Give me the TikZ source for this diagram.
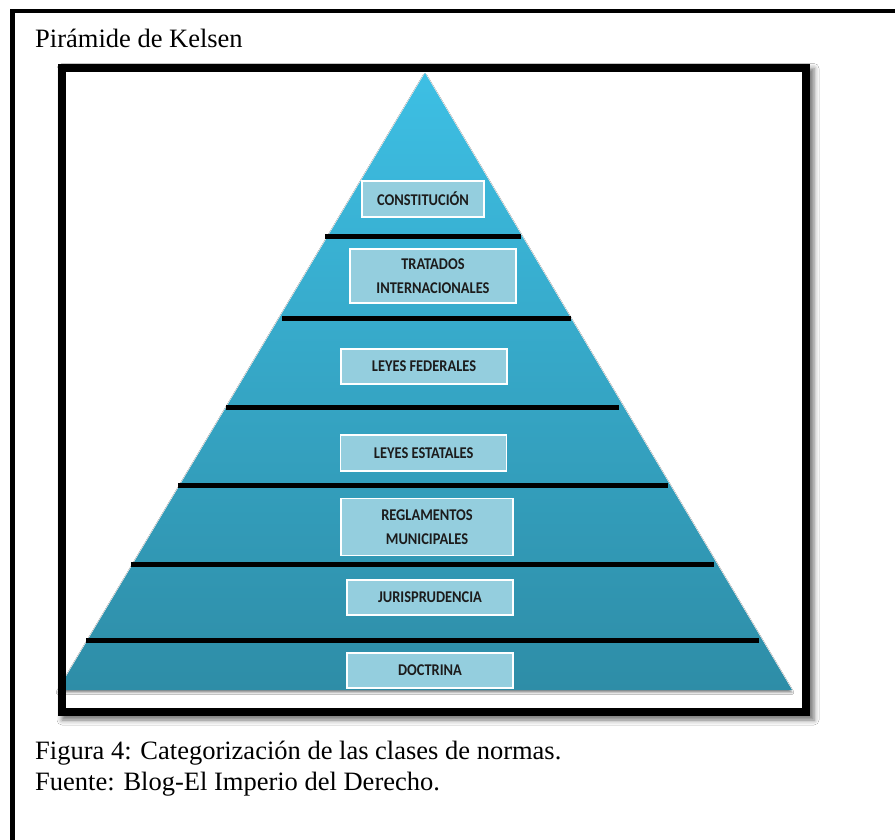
\documentclass[tikz,border=0pt]{standalone}
\usepackage{fontspec}
\setmainfont{Liberation Serif}
\newfontfamily\lblfont[FakeStretch=0.88]{Carlito}
\usetikzlibrary{shadows.blur}
\definecolor{pyrtop}{HTML}{3DBFE4}
\definecolor{pyrbot}{HTML}{2E8DA7}
\definecolor{boxfill}{HTML}{94CEDE}
\definecolor{lbltext}{HTML}{1C1C1C}
\tikzset{
  lvlbox/.style={draw=white, line width=1.4pt, fill=boxfill, text=lbltext,
    font=\lblfont\bfseries\fontsize{16.4}{24}\selectfont, align=center,
    inner sep=0pt, minimum height=35pt},
  band/.style={line width=5pt, black},
  caption/.style={anchor=base west, inner sep=0pt, font=\fontsize{26.5}{31}\selectfont}
}
\begin{document}
\begin{tikzpicture}[x=1pt,y=-1pt]
\useasboundingbox (0,0) rectangle (895,840);
\fill[white] (0,0) rectangle (895,840);
% outer frame (left and top only)
\draw[line width=4.5pt, line cap=rect] (12.5,840) -- (12.5,11) -- (895,11);
% title
\node[caption] (title) at (35,48) {Pirámide de Kelsen};
% inner frame with shadow
\path[fill=white, blur shadow={shadow xshift=4pt, shadow yshift=-4pt, shadow blur radius=5pt, shadow opacity=55}] (58,64.5) rectangle (810,716);
% pyramid
\path[top color=pyrtop, bottom color=pyrbot, blur shadow={shadow xshift=0pt, shadow yshift=-2.5pt, shadow blur radius=2pt, shadow opacity=45}] (425,73) -- (792,690) -- (58,690) -- cycle;
% bands
\draw[band] (325,236) -- (521,236);
\draw[band] (282,318) -- (571,318);
\draw[band] (226,407) -- (619,407);
\draw[band] (178,485) -- (668,485);
\draw[band] (131,564) -- (714,564);
\draw[band] (86,640) -- (759,640);
% boxes
\node[lvlbox, minimum width=122pt, minimum height=36pt] (b1) at (423,199) {CONSTITUCIÓN};
\node[lvlbox, minimum width=166pt, minimum height=54pt] (b2) at (433,276) {TRATADOS\\INTERNACIONALES};
\node[lvlbox, minimum width=166pt] (b3) at (424,366.5) {LEYES FEDERALES};
\node[lvlbox, minimum width=166pt, minimum height=36pt] (b4) at (423.7,453) {LEYES ESTATALES};
\node[lvlbox, minimum width=172pt, minimum height=57pt] (b5) at (427,527) {REGLAMENTOS\\MUNICIPALES};
\node[lvlbox, minimum width=166pt] (b6) at (430,597.5) {JURISPRUDENCIA};
\node[lvlbox, minimum width=166pt] (b7) at (430,670.5) {DOCTRINA};
% inner frame border
\draw[line width=8pt] (62,68.5) rectangle (806,712);
% caption
\node[caption] (cap1) at (35,759) {Figura 4: Categorización de las clases de normas.};
\node[caption] (cap2) at (35,790) {Fuente: Blog-El Imperio del Derecho.};
\end{tikzpicture}
\end{document}
